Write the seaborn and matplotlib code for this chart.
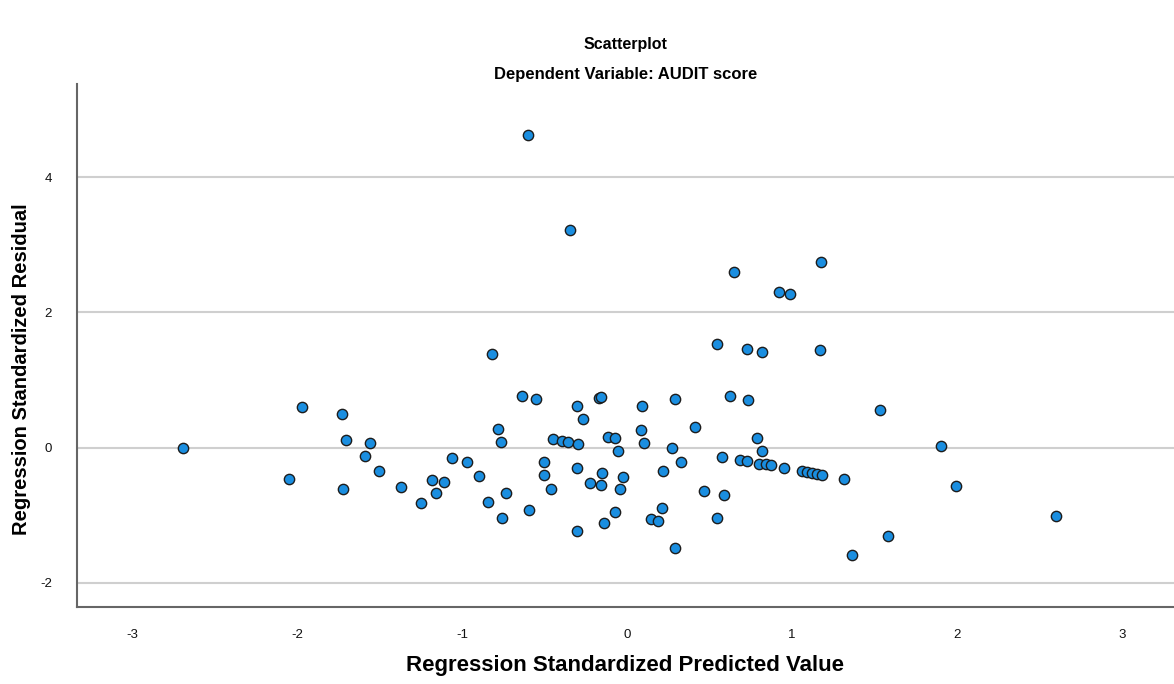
import matplotlib
matplotlib.use("Agg")
import matplotlib.pyplot as plt
import seaborn as sns
import pandas as pd

predicted = [-2.69, -2.05, -1.97, -1.73, -1.72, -1.70, -1.59, -1.56, -1.50, -1.37,
             -1.25, -1.18, -1.16, -1.11, -1.06, -0.97, -0.895, -0.845, -0.82, -0.78,
             -0.765, -0.755, -0.735, -0.636, -0.60, -0.595, -0.55, -0.503, -0.50, -0.46,
             -0.45, -0.394, -0.356, -0.345, -0.30, -0.30, -0.30, -0.297, -0.265, -0.224,
             -0.172, -0.160, -0.16, -0.15, -0.14, -0.113, -0.073, -0.07, -0.056, -0.042,
             -0.026, 0.083, 0.093, 0.105, 0.145, 0.186, 0.21, 0.22, 0.27, 0.29,
             0.29, 0.325, 0.41, 0.465, 0.547, 0.547, 0.576, 0.59, 0.624, 0.648,
             0.687, 0.725, 0.73, 0.735, 0.786, 0.80, 0.82, 0.82, 0.84, 0.873,
             0.919, 0.95, 0.986, 1.059, 1.089, 1.119, 1.15, 1.17, 1.178, 1.184,
             1.315, 1.364, 1.535, 1.58, 1.90, 1.996, 2.60]
residual = [-0.01, -0.47, 0.60, 0.50, -0.61, 0.11, -0.12, 0.06, -0.34, -0.59,
            -0.82, -0.48, -0.67, -0.515, -0.16, -0.21, -0.42, -0.81, 1.39, 0.27,
            0.08, -1.04, -0.67, 0.76, 4.62, -0.92, 0.72, -0.22, -0.41, -0.61,
            0.12, 0.096, 0.08, 3.22, 0.61, -0.30, -1.235, 0.056, 0.42, -0.53,
            0.74, 0.745, -0.555, -0.37, -1.12, 0.16, -0.96, 0.145, -0.047, -0.61,
            -0.43, 0.26, 0.62, 0.07, -1.06, -1.08, -0.90, -0.35, 0.0, 0.72,
            -1.49, -0.21, 0.30, -0.65, 1.535, -1.05, -0.136, -0.70, 0.76, 2.60,
            -0.185, -0.20, 1.46, 0.71, 0.145, -0.245, 1.42, -0.05, -0.25, -0.26,
            2.30, -0.30, 2.27, -0.35, -0.36, -0.37, -0.39, 1.45, 2.74, -0.41,
            -0.466, -1.585, 0.555, -1.31, 0.02, -0.57, -1.02]

x_ticks = [-3, -2, -1, 0, 1, 2, 3]
y_ticks = [-2, 0, 2, 4]

df = pd.DataFrame({"pred": predicted, "resid": residual})

sns.set_theme(style="white")
plt.rcParams['font.family'] = ['Liberation Sans', 'DejaVu Sans']

fig = plt.figure(figsize=(11.74, 6.84), dpi=100)
ax = fig.add_axes([77/1174, 77/684, 1 - 77/1174, (607-84)/684])

for yv in y_ticks:
    ax.axhline(yv, color="#cfcfcf", lw=1.5, zorder=0)

sns.scatterplot(data=df, x="pred", y="resid", ax=ax, s=55, color="#1a8ee0",
                edgecolor="#1c1c1c", linewidth=1.0, zorder=3)

ax.set_xlim(-3.333, 3.315)
ax.set_ylim(-2.36, 5.38)
ax.set_xticks(x_ticks)
ax.set_yticks(y_ticks)
ax.set_xticklabels([str(v) for v in x_ticks], fontsize=9.5, color="#111111")
ax.set_yticklabels([str(v) for v in y_ticks], fontsize=9.5, color="#111111")
ax.tick_params(axis="both", length=0)
ax.tick_params(axis="x", pad=16)
ax.tick_params(axis="y", pad=18)

for side in ["top", "right"]:
    ax.spines[side].set_visible(False)
for side in ["left", "bottom"]:
    ax.spines[side].set_color("#666666")
    ax.spines[side].set_linewidth(1.5)

ax.set_xlabel("Regression Standardized Predicted Value", fontsize=16,
              fontweight="bold", color="black")
ax.set_ylabel("Regression Standardized Residual", fontsize=14.5,
              fontweight="bold", color="black")
ax.xaxis.set_label_coords(0.5, -(666 - 607) / 523, transform=ax.transAxes)
ax.xaxis.label.set_va("center")
ax.yaxis.set_label_coords((22 - 77) / 1097, (607 - 369) / 523, transform=ax.transAxes)
ax.yaxis.label.set_va("center")

fig.text((77 + 1174) / 2 / 1174, 1 - 45/684, "Scatterplot", ha="center", va="center",
         fontsize=11.5, fontweight="bold", color="black")
fig.text((77 + 1174) / 2 / 1174, 1 - 74/684, "Dependent Variable: AUDIT score",
         ha="center", va="center", fontsize=12, fontweight="bold", color="black")

fig.savefig("out.png", dpi=100)
